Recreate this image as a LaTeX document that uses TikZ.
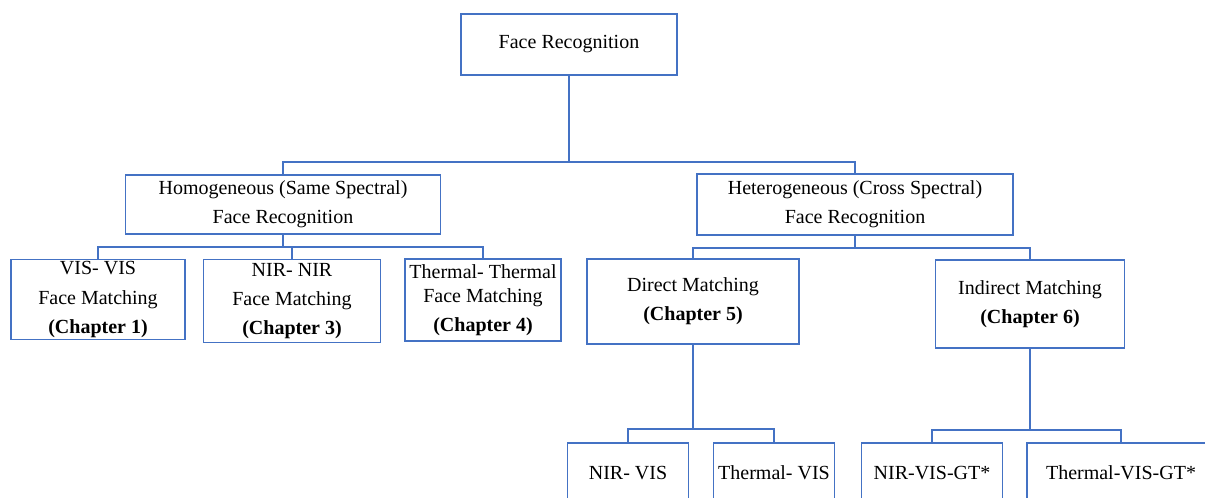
\documentclass[tikz,border=0pt]{standalone}
\usepackage{fontspec}
\setmainfont{Liberation Serif}
\definecolor{ln}{HTML}{4472C4}
\begin{document}
\begin{tikzpicture}[x=0.75pt,y=-0.75pt,
  bx/.style 2 args={draw=ln, line width=0.9pt, fill=white, rectangle, inner sep=0pt,
     minimum width=#1*0.75pt, minimum height=#2*0.75pt, align=center,
     font=\fontsize{15}{22}\selectfont},
  link/.style={draw=ln, line width=0.9pt}]
\useasboundingbox (0,0) rectangle (1205,497);
\clip (0,0) rectangle (1205,497);
% top
\node[bx={216}{61}] (fr) at (569,44.5) {Face Recognition};
% level 1
\node[bx={315}{59}] (hom) at (283,204.5) {Homogeneous (Same Spectral)\\Face Recognition};
\node[bx={316}{61}] (het) at (855,204.5) {Heterogeneous (Cross Spectral)\\Face Recognition};
% level 2 left
\node[bx={174}{80}] (vis) at (98,299.5) {VIS- VIS\\Face Matching\\\textbf{(Chapter 1)}};
\node[bx={177}{83}] (nir) at (292,301) {NIR- NIR\\Face Matching\\\textbf{(Chapter 3)}};
\node[bx={156}{82}] (thr) at (483,300) {Thermal- Thermal\\[-4pt]Face Matching\\\textbf{(Chapter 4)}};
% level 2 right
\node[bx={212}{85}] (dir) at (693,301.5) {Direct Matching\\\textbf{(Chapter 5)}};
\node[bx={189}{88}] (ind) at (1030,304) {Indirect Matching\\\textbf{(Chapter 6)}};
% level 3
\node[bx={121}{60}] (nv) at (628,473) {NIR- VIS};
\node[bx={121}{60}] (tv) at (774,473) {Thermal- VIS};
\node[bx={141}{60}] (nvg) at (932,473) {NIR-VIS-GT*};
\node[bx={188}{60}] (tvg) at (1121,473) {Thermal-VIS-GT*};
% bus coordinates
\coordinate (b0) at (569,162);
\coordinate (b1) at (283,247);
\coordinate (b2) at (855,248);
\coordinate (b3) at (693,429);
\coordinate (b4) at (1030,430);
% connectors
\draw[link] (fr.south) -- (b0) -| (hom.north);
\draw[link] (b0) -| (het.north);
\draw[link] (hom.south) -- (b1) -| (vis.north);
\draw[link] (b1) -| (nir.north);
\draw[link] (b1) -| (thr.north);
\draw[link] (het.south) -- (b2) -| (dir.north);
\draw[link] (b2) -| (ind.north);
\draw[link] (dir.south) -- (b3) -| (nv.north);
\draw[link] (b3) -| (tv.north);
\draw[link] (ind.south) -- (b4) -| (nvg.north);
\draw[link] (b4) -| (tvg.north);
\end{tikzpicture}
\end{document}
